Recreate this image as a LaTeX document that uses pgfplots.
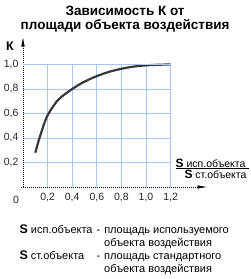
\documentclass[border=0pt]{standalone}
\usepackage{pgfplots}
\pgfplotsset{compat=1.18}
\usetikzlibrary{arrows.meta}
\usepackage{fontspec}
\setmainfont{Liberation Sans}
\definecolor{gridblue}{HTML}{A9C6EC}
\definecolor{curve}{HTML}{383838}
\begin{document}
\begin{tikzpicture}
\path[use as bounding box] (-23pt,-92pt) rectangle (227pt,187pt);
\begin{axis}[
  at={(0,0)}, anchor=origin,
  x=123pt, y=122.5pt,
  xmin=0, xmax=1.2, ymin=0, ymax=1.0,
  clip=false,
  axis lines=left,
  axis line style={black, line width=0.8pt, dash pattern=on 1.2pt off 0.8pt},
  x axis line style={-{Latex[length=10pt,width=3.5pt]}, shorten >=-37pt, shorten <=-2pt},
  y axis line style={-{Latex[length=10pt,width=3.5pt]}, shorten >=-28pt},
  grid=major,
  major grid style={gridblue, line width=0.7pt},
  xtick={0.2,0.4,0.6,0.8,1.0,1.2},
  ytick={0.2,0.4,0.6,0.8,1.0},
  major tick length=0pt,
  tick label style={font=\fontsize{10.5}{12}\selectfont, text=black!85},
  xticklabel style={yshift=-3pt},
  yticklabel style={xshift=-1pt},
  /pgf/number format/assume math mode=true,
  /pgf/number format/use comma,
  /pgf/number format/fixed,
  /pgf/number format/fixed zerofill,
  /pgf/number format/precision=1,
]
\addplot[curve, line width=2.2pt, smooth, tension=0.6] coordinates {
(0.10,0.28) (0.125,0.37) (0.15,0.45) (0.175,0.525) (0.20,0.585) (0.25,0.665) (0.30,0.725) (0.40,0.80) (0.50,0.86)
(0.60,0.905) (0.70,0.94) (0.80,0.965) (0.90,0.983) (1.00,0.993) (1.10,0.998) (1.20,1.0)
};
\draw[gridblue, line width=0.7pt] (axis cs:0,1) -- (axis cs:1.2,1);
\draw[gridblue, line width=0.7pt] (axis cs:1.2,0) -- (axis cs:1.2,1);
\node[font=\fontsize{10.5}{12}\selectfont, text=black!85] at (axis cs:-0.057,-0.106) {0};
\node[font=\bfseries\fontsize{12.5}{14}\selectfont] at (axis cs:-0.106,1.15) {К};
\node[font=\bfseries\fontsize{13.5}{15}\selectfont, align=center] at (axis cs:0.83,1.37) {Зависимость К от\\[-1pt]площади объекта воздействия};
\node[font=\fontsize{10.5}{12}\selectfont] at (axis cs:1.525,0.196) {\textbf{\fontsize{12}{12}\selectfont S} исп.объекта};
\draw[black, line width=0.6pt] (axis cs:1.245,0.155) -- (axis cs:1.84,0.155);
\node[font=\fontsize{10.5}{12}\selectfont] at (axis cs:1.565,0.106) {\textbf{\fontsize{12}{12}\selectfont S} ст.объекта};
\node[anchor=north west, inner sep=0pt, font=\fontsize{11}{13}\selectfont] at (axis cs:-0.03,-0.30) {%
\begin{tabular}{@{}l@{\hspace{4pt}}l@{\hspace{4pt}}l@{}}
\textbf{\fontsize{12.5}{12}\selectfont S} исп.объекта & - & площадь используемого\\
 & & объекта воздействия\\
\textbf{\fontsize{12.5}{12}\selectfont S} ст.объекта & - & площадь стандартного\\
 & & объекта воздействия
\end{tabular}};
\end{axis}
\end{tikzpicture}
\end{document}
